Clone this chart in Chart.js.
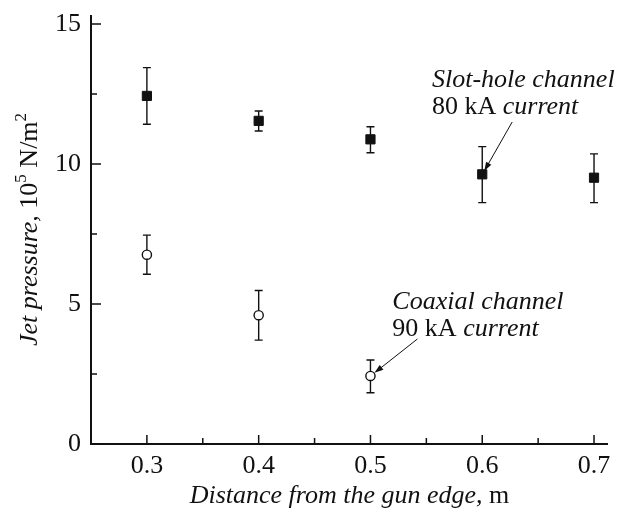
<!DOCTYPE html>
<html>
<head>
<meta charset="utf-8">
<script src="https://cdn.jsdelivr.net/npm/chart.js@4.4.0/dist/chart.umd.min.js"></script>
<style>
html,body{margin:0;padding:0;background:#fff;}
canvas{display:block;}
</style>
</head>
<body>
<canvas id="c" width="621" height="508"></canvas>
<script>
// ---- data ----
const slotX = [0.3, 0.4, 0.5, 0.6, 0.7];
const slotY = [12.43, 11.54, 10.88, 9.63, 9.51];
const slotHigh = [13.44, 11.89, 11.33, 10.62, 10.36];
const slotLow = [11.42, 11.18, 10.40, 8.62, 8.62];

const coaxX = [0.3, 0.4, 0.5];
const coaxY = [6.76, 4.60, 2.43];
const coaxHigh = [7.46, 5.48, 3.00];
const coaxLow = [6.06, 3.71, 1.83];

const xMajorTicks = [0.3, 0.4, 0.5, 0.6, 0.7];
const xMinorTicks = [0.35, 0.45, 0.55, 0.65];
const yMajorTicks = [0, 5, 10, 15];
const yMinorTicks = [2.5, 7.5, 12.5];

const slotLabel = ["Slot-hole channel", "80 kA current"];
const coaxLabel = ["Coaxial channel", "90 kA current"];
const xTitle = "Distance from the gun edge,";
const xUnit = " m";
const yTitle = "Jet pressure,";

const SERIF = '"Liberation Serif", "DejaVu Serif", serif';
const FS = 26;

function drawRuns(ctx, runs, x, y) {
  let cx = x;
  for (const r of runs) {
    const size = r.sup ? 17 : FS;
    ctx.font = (r.italic ? 'italic ' : '') + size + 'px ' + SERIF;
    ctx.fillText(r.t, cx, r.sup ? y - 11 : y);
    cx += ctx.measureText(r.t).width;
  }
  return cx - x;
}
function measureRuns(ctx, runs) {
  let w = 0;
  for (const r of runs) {
    const size = r.sup ? 17 : FS;
    ctx.font = (r.italic ? 'italic ' : '') + size + 'px ' + SERIF;
    w += ctx.measureText(r.t).width;
  }
  return w;
}

function arrow(ctx, x1, y1, x2, y2) {
  const a = Math.atan2(y2 - y1, x2 - x1);
  const L = 9, W = 3;
  ctx.beginPath();
  ctx.moveTo(x1, y1);
  ctx.lineTo(x2 - L * Math.cos(a) * 0.7, y2 - L * Math.sin(a) * 0.7);
  ctx.lineWidth = 1;
  ctx.strokeStyle = '#111';
  ctx.stroke();
  ctx.beginPath();
  ctx.moveTo(x2, y2);
  ctx.lineTo(x2 - L * Math.cos(a) + W * Math.sin(a), y2 - L * Math.sin(a) - W * Math.cos(a));
  ctx.lineTo(x2 - L * Math.cos(a) - W * Math.sin(a), y2 - L * Math.sin(a) + W * Math.cos(a));
  ctx.closePath();
  ctx.fillStyle = '#111';
  ctx.fill();
}

const errorBars = {
  id: 'errorBars',
  beforeDatasetsDraw(chart) {
    const {ctx, scales: {x, y}} = chart;
    ctx.save();
    ctx.strokeStyle = '#111';
    ctx.lineWidth = 1.4;
    const sets = [[slotX, slotHigh, slotLow], [coaxX, coaxHigh, coaxLow]];
    for (const [xs, hi, lo] of sets) {
      xs.forEach((v, i) => {
        const px = x.getPixelForValue(v);
        const pt = y.getPixelForValue(hi[i]);
        const pb = y.getPixelForValue(lo[i]);
        ctx.beginPath();
        ctx.moveTo(px, pt); ctx.lineTo(px, pb);
        ctx.moveTo(px - 4, pt); ctx.lineTo(px + 4, pt);
        ctx.moveTo(px - 4, pb); ctx.lineTo(px + 4, pb);
        ctx.stroke();
      });
    }
    ctx.restore();
  }
};

const frame = {
  id: 'frame',
  afterDraw(chart) {
    const {ctx, chartArea: a, scales: {x, y}} = chart;
    ctx.save();
    ctx.strokeStyle = '#111';
    ctx.lineWidth = 2;
    ctx.beginPath();
    ctx.moveTo(a.left, a.top);
    ctx.lineTo(a.left, a.bottom);
    ctx.lineTo(a.right, a.bottom);
    ctx.stroke();
    ctx.lineWidth = 1.5;
    ctx.beginPath();
    for (const v of xMajorTicks) { const p = x.getPixelForValue(v); ctx.moveTo(p, a.bottom); ctx.lineTo(p, a.bottom - 9); }
    for (const v of xMinorTicks) { const p = x.getPixelForValue(v); ctx.moveTo(p, a.bottom); ctx.lineTo(p, a.bottom - 6); }
    for (const v of yMajorTicks) { const p = y.getPixelForValue(v); ctx.moveTo(a.left, p); ctx.lineTo(a.left + 10, p); }
    for (const v of yMinorTicks) { const p = y.getPixelForValue(v); ctx.moveTo(a.left, p); ctx.lineTo(a.left + 6, p); }
    ctx.stroke();

    // annotations
    ctx.fillStyle = '#111';
    ctx.textBaseline = 'alphabetic';
    ctx.textAlign = 'left';
    const sx = x.getPixelForValue(0.555);
    drawRuns(ctx, [{t: slotLabel[0], italic: true}], sx, y.getPixelForValue(12.75));
    drawRuns(ctx, [{t: '80 kA '}, {t: 'current', italic: true}], sx, y.getPixelForValue(11.79));
    arrow(ctx, x.getPixelForValue(0.6268), y.getPixelForValue(11.5), x.getPixelForValue(0.6018), y.getPixelForValue(9.75));

    const cx = x.getPixelForValue(0.5196);
    drawRuns(ctx, [{t: coaxLabel[0], italic: true}], cx, y.getPixelForValue(4.82));
    drawRuns(ctx, [{t: '90 kA '}, {t: 'current', italic: true}], cx, y.getPixelForValue(3.84));
    arrow(ctx, x.getPixelForValue(0.542), y.getPixelForValue(3.75), x.getPixelForValue(0.5036), y.getPixelForValue(2.54));

    // x title
    const xr = [{t: xTitle, italic: true}, {t: xUnit}];
    const xw = measureRuns(ctx, xr);
    drawRuns(ctx, xr, (a.left + a.right) / 2 - xw / 2, 503);

    // y title
    const yr = [{t: yTitle, italic: true}, {t: ' 10'}, {t: '5', sup: true}, {t: ' N/m'}, {t: '2', sup: true}];
    const yw = measureRuns(ctx, yr);
    ctx.translate(37, (a.top + a.bottom) / 2);
    ctx.rotate(-Math.PI / 2);
    drawRuns(ctx, yr, -yw / 2, 0);
    ctx.restore();
  }
};

new Chart(document.getElementById('c'), {
  type: 'scatter',
  data: {
    datasets: [
      {
        label: 'Slot-hole channel, 80 kA',
        data: slotX.map((v, i) => ({x: v, y: slotY[i]})),
        pointStyle: 'rect',
        pointRadius: 6.5,
        pointHoverRadius: 6.5,
        backgroundColor: '#111',
        borderColor: '#111',
        borderWidth: 1
      },
      {
        label: 'Coaxial channel, 90 kA',
        data: coaxX.map((v, i) => ({x: v, y: coaxY[i]})),
        pointStyle: 'circle',
        pointRadius: 4.6,
        pointHoverRadius: 4.6,
        backgroundColor: '#fff',
        borderColor: '#111',
        borderWidth: 1.4
      }
    ]
  },
  options: {
    responsive: false,
    animation: false,
    devicePixelRatio: 1,
    layout: {padding: {left: 0, right: 13, top: 15, bottom: 0}},
    plugins: {legend: {display: false}, tooltip: {enabled: false}},
    scales: {
      x: {
        type: 'linear',
        min: 0.25,
        max: 0.7125,
        border: {display: false},
        grid: {display: false, drawTicks: false},
        afterBuildTicks(s) { s.ticks = xMajorTicks.map(v => ({value: v})); },
        afterFit(s) { s.height = 64; s.paddingLeft = 0; s.paddingRight = 0; },
        ticks: {
          padding: 7,
          color: '#111',
          font: {family: SERIF, size: FS},
          callback: v => v.toFixed(1)
        }
      },
      y: {
        type: 'linear',
        min: 0,
        max: 15.32,
        border: {display: false},
        grid: {display: false, drawTicks: false},
        afterBuildTicks(s) { s.ticks = yMajorTicks.map(v => ({value: v})); },
        afterFit(s) { s.width = 91; s.paddingTop = 0; s.paddingBottom = 0; },
        ticks: {
          padding: 10,
          color: '#111',
          font: {family: SERIF, size: FS},
          callback: v => String(v)
        }
      }
    }
  },
  plugins: [errorBars, frame]
});
</script>
</body>
</html>
